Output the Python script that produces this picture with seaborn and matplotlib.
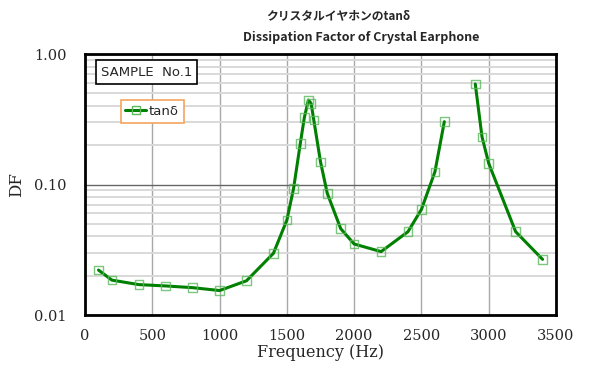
import pandas as pd
import matplotlib
matplotlib.use("Agg")
import matplotlib.pyplot as plt
import seaborn as sns
from matplotlib.lines import Line2D
from matplotlib.ticker import FixedLocator, LogLocator, NullFormatter

freq_hz = [100, 200, 400, 600, 800, 1000, 1200, 1400, 1500, 1550, 1600, 1630,
           1660, 1680, 1700, 1750, 1800, 1900, 2000, 2200, 2400, 2500, 2600,
           2670, 2900, 2950, 3000, 3200, 3400]
tan_delta = [0.0221, 0.0185, 0.0171, 0.0167, 0.0162, 0.0154, 0.0183, 0.0297,
             0.0534, 0.0935, 0.207, 0.327, 0.444, 0.419, 0.312, 0.149, 0.0857,
             0.0459, 0.035, 0.0306, 0.0435, 0.0645, 0.125, 0.303, 0.589, 0.232,
             0.145, 0.0435, 0.0267]
# the line is broken between the two high-frequency branches
segment = ["a"] * 24 + ["b"] * 5

x_ticks = [0, 500, 1000, 1500, 2000, 2500, 3000, 3500]
y_ticks = [0.01, 0.1, 1.0]
y_tick_labels = ["0.01", "0.10", "1.00"]

df = pd.DataFrame({"freq": freq_hz, "tan": tan_delta, "seg": segment})

sns.set_style("white")
plt.rcParams["font.family"] = ["DejaVu Sans"]

fig = plt.figure(figsize=(6, 3.72), dpi=100)
ax = fig.add_axes([0.1417, 0.1532, 0.785, 0.7016])

# 1. grid first so the data sits on top
ax.set_yscale("log")
ax.set_xlim(0, 3500)
ax.set_ylim(0.01, 1.0)
ax.yaxis.set_minor_locator(LogLocator(base=10, subs=range(2, 10)))
ax.yaxis.set_minor_formatter(NullFormatter())
ax.xaxis.set_major_locator(FixedLocator(x_ticks))
ax.yaxis.set_major_locator(FixedLocator(y_ticks))
ax.grid(True, axis="x", which="major", color="#a8a8a8", lw=1.0)
ax.grid(True, axis="y", which="minor", color="#d9d9d9", lw=1.4)
ax.grid(True, axis="y", which="major", color="#666666", lw=1.0)
ax.set_axisbelow(True)

# 2. data
sns.lineplot(data=df, x="freq", y="tan", units="seg", estimator=None,
             color="#008000", lw=2.2, ax=ax, legend=False, zorder=3)
sns.scatterplot(data=df, x="freq", y="tan", marker="s", s=38,
                facecolor="none", edgecolor="#5cb85c", linewidth=1.0,
                alpha=0.8, ax=ax, legend=False, zorder=4)

# 3. axes cosmetics
for sp in ax.spines.values():
    sp.set_color("black")
    sp.set_linewidth(2.0)
ax.tick_params(axis="x", which="both", length=0, pad=10)
ax.tick_params(axis="y", which="both", length=0, pad=13)
ax.set_yticklabels(y_tick_labels)
for lab in ax.get_xticklabels() + ax.get_yticklabels():
    lab.set_fontfamily("DejaVu Serif")
    lab.set_fontsize(10.5)
ax.set_xlabel("Frequency (Hz)", family="DejaVu Serif", fontsize=11.5, labelpad=1)
ax.set_ylabel("DF", family="DejaVu Serif", fontsize=12, labelpad=7)

# titles
fig.text(0.563, 0.957, "クリスタルイヤホンのtanδ", ha="center", va="center",
         fontsize=8.5, fontweight="bold",
         family=["Noto Sans CJK JP", "DejaVu Sans"])
fig.text(0.602, 0.898, "Dissipation Factor of Crystal Earphone",
         ha="center", va="center", fontsize=9, fontweight="bold",
         family=["Noto Sans CJK JP", "DejaVu Sans"])

# sample box
fig.text(0.168, 0.806, "SAMPLE  No.1", ha="left", va="center", fontsize=9.5,
         bbox=dict(boxstyle="square,pad=0.4", fc="white", ec="black", lw=1.2))

# legend
handle = Line2D([], [], color="#008000", lw=2.2, marker="s", markersize=6,
                markerfacecolor="none", markeredgecolor="#5cb85c")
leg = fig.legend([handle], ["tanδ"], loc="upper left",
                 bbox_to_anchor=(0.201, 0.730), borderaxespad=0,
                 fontsize=9.5, handlelength=1.6, handletextpad=0.2,
                 borderpad=0.35, fancybox=False, framealpha=1)
leg.get_frame().set_edgecolor("#f4a460")
leg.get_frame().set_linewidth(1.2)

fig.savefig("out.png", dpi=100)
